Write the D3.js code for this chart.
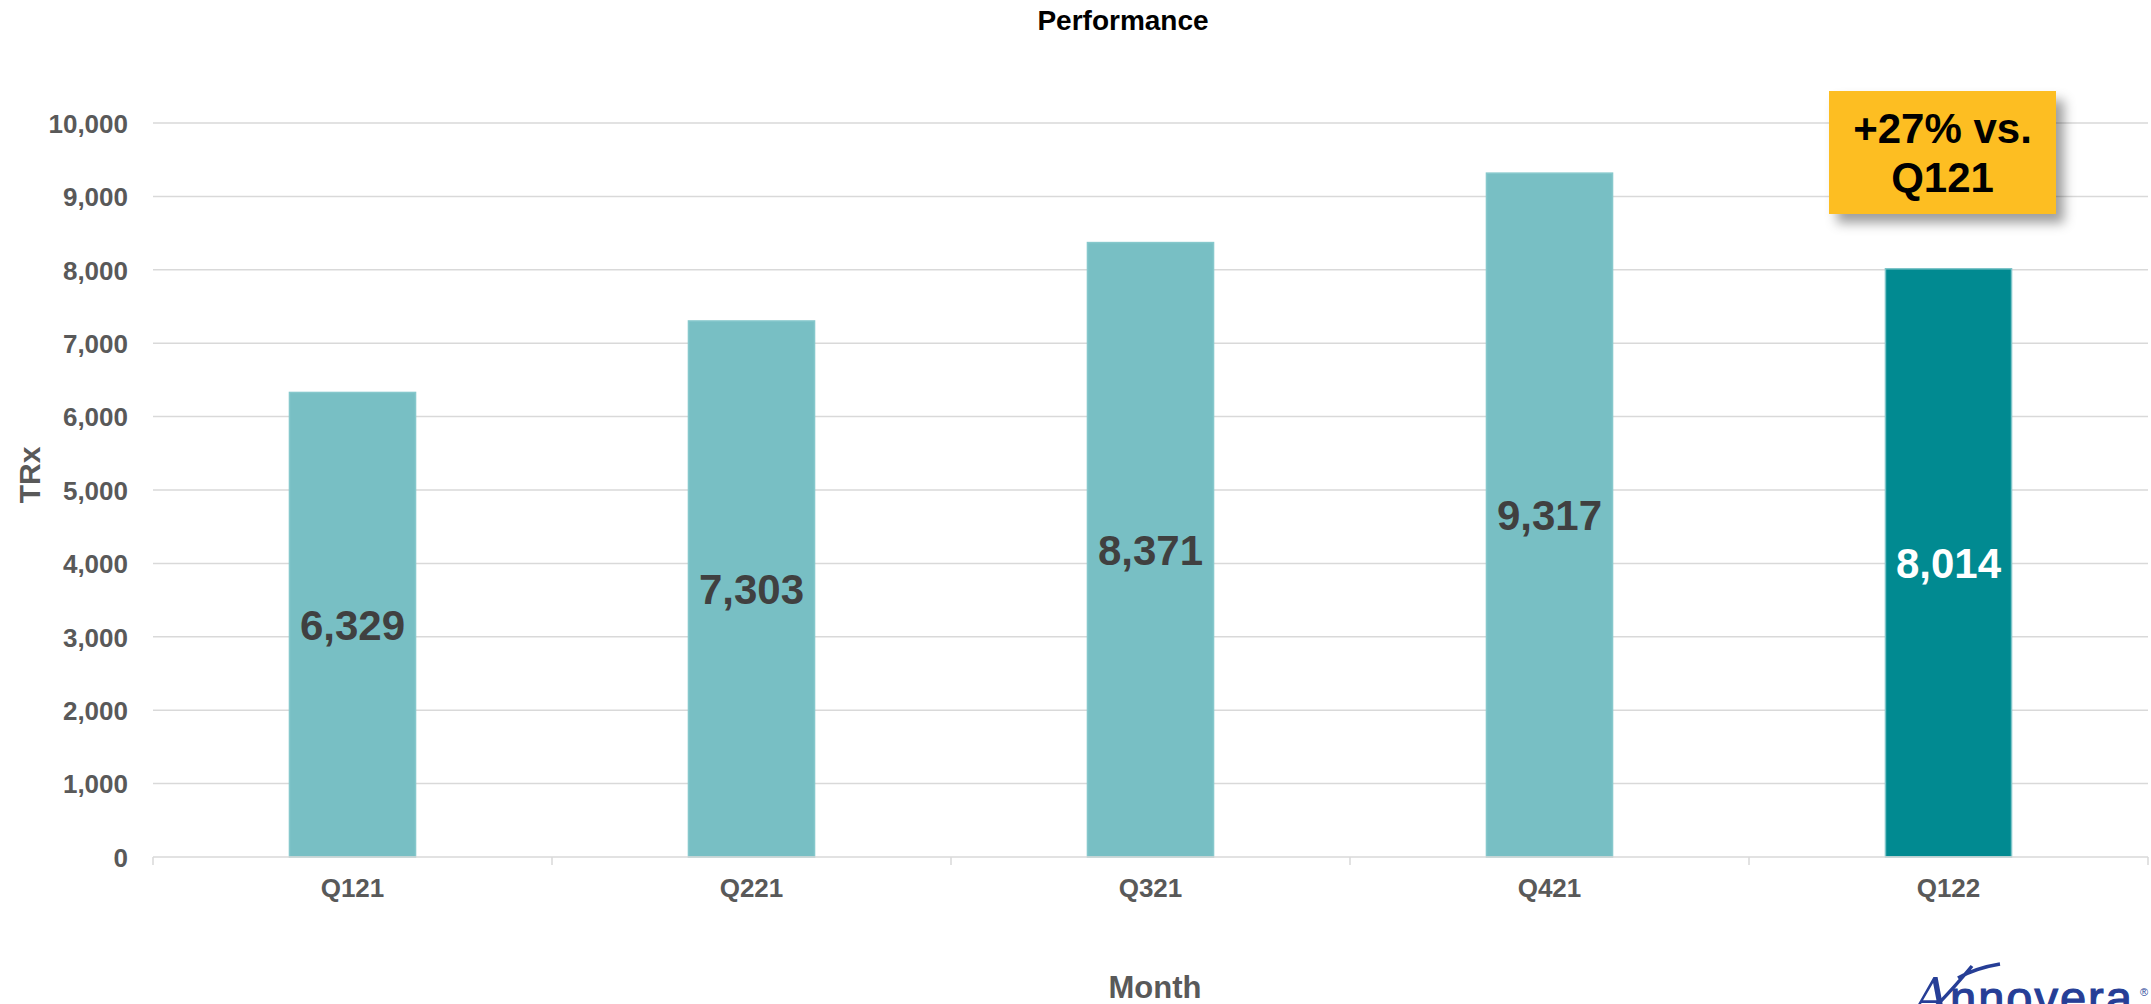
<!DOCTYPE html>
<html>
<head>
<meta charset="utf-8">
<script src="https://cdn.jsdelivr.net/npm/d3@7"></script>
<style>
  html, body { margin: 0; padding: 0; background: #ffffff; }
  svg { display: block; font-family: "Liberation Sans", Arial, sans-serif; }
</style>
</head>
<body>
<svg id="chart" width="2151" height="1004"></svg>
<script>
// Quarterly TRx volumes
const quarters = ["Q121", "Q221", "Q321", "Q421", "Q122"];
const trx = [6329, 7303, 8371, 9317, 8014];
const highlighted = ["Q122"];
const yTicks = [0, 1000, 2000, 3000, 4000, 5000, 6000, 7000, 8000, 9000, 10000];
const calloutLines = ["+27% vs.", "Q121"];

const plot = { left: 153, right: 2148, top: 123, bottom: 857 };

const svg = d3.select("#chart");

const x = d3.scaleBand()
  .domain(quarters)
  .range([plot.left, plot.right])
  .paddingInner(0.684)
  .paddingOuter(0.342);

const y = d3.scaleLinear()
  .domain([0, 10000])
  .range([plot.bottom, plot.top]);

const fmt = d3.format(",");

// drop shadow for the callout box
const defs = svg.append("defs");
const shadow = defs.append("filter")
  .attr("id", "callShadow")
  .attr("x", "-20%").attr("y", "-20%")
  .attr("width", "150%").attr("height", "160%");
shadow.append("feDropShadow")
  .attr("dx", 8).attr("dy", 9)
  .attr("stdDeviation", 6)
  .attr("flood-color", "#000")
  .attr("flood-opacity", 0.38);

// title
svg.append("text")
  .attr("x", 1123).attr("y", 30)
  .attr("text-anchor", "middle")
  .attr("font-size", 28).attr("font-weight", "bold")
  .attr("fill", "#000")
  .text("Performance");

// horizontal gridlines
svg.append("g")
  .selectAll("line")
  .data(yTicks.filter(d => d > 0))
  .join("line")
  .attr("x1", plot.left).attr("x2", plot.right)
  .attr("y1", d => y(d)).attr("y2", d => y(d))
  .attr("stroke", "#d9d9d9").attr("stroke-width", 1.5);

// y axis labels
const yAxis = svg.append("g")
  .attr("transform", `translate(${plot.left - 25},0)`)
  .call(d3.axisLeft(y).tickValues(yTicks).tickFormat(fmt).tickSize(0).tickPadding(0));
yAxis.select(".domain").remove();
yAxis.selectAll("text")
  .attr("font-family", "'Liberation Sans', Arial, sans-serif")
  .attr("font-size", 26).attr("font-weight", "bold")
  .attr("fill", "#595959")
  .attr("dy", "0.36em");

// bars
svg.append("g")
  .selectAll("rect")
  .data(quarters)
  .join("rect")
  .attr("x", d => x(d))
  .attr("width", x.bandwidth())
  .attr("y", (d, i) => y(trx[i]))
  .attr("height", (d, i) => y(0) - y(trx[i]))
  .attr("fill", d => highlighted.includes(d) ? "#018A91" : "#78BFC4")
  .attr("stroke", d => highlighted.includes(d) ? "#7CC4C8" : "#86C8CC")
  .attr("stroke-width", 1.5);

// x axis line with category boundary ticks
const xAxisG = svg.append("g");
xAxisG.append("line")
  .attr("x1", plot.left).attr("x2", plot.right)
  .attr("y1", plot.bottom).attr("y2", plot.bottom)
  .attr("stroke", "#d9d9d9").attr("stroke-width", 1.5);
const bounds = quarters.map(q => x(q) - x.step() * x.paddingInner() / 2).concat([plot.right]);
xAxisG.selectAll("line.tick")
  .data(bounds)
  .join("line")
  .attr("class", "tick")
  .attr("x1", d => d).attr("x2", d => d)
  .attr("y1", plot.bottom).attr("y2", plot.bottom + 8)
  .attr("stroke", "#d9d9d9").attr("stroke-width", 1.5);

// category labels
svg.append("g")
  .selectAll("text")
  .data(quarters)
  .join("text")
  .attr("x", d => x(d) + x.bandwidth() / 2)
  .attr("y", 897)
  .attr("text-anchor", "middle")
  .attr("font-size", 26).attr("font-weight", "bold")
  .attr("fill", "#595959")
  .text(d => d);

// value labels centred in each bar
svg.append("g")
  .selectAll("text")
  .data(quarters)
  .join("text")
  .attr("x", d => x(d) + x.bandwidth() / 2)
  .attr("y", (d, i) => (y(trx[i]) + y(0)) / 2)
  .attr("dy", "0.36em")
  .attr("text-anchor", "middle")
  .attr("font-size", 42).attr("font-weight", "bold")
  .attr("fill", d => highlighted.includes(d) ? "#ffffff" : "#404040")
  .text((d, i) => fmt(trx[i]));

// axis titles
svg.append("text")
  .attr("transform", "translate(40,475) rotate(-90)")
  .attr("text-anchor", "middle")
  .attr("font-size", 30).attr("font-weight", "bold")
  .attr("fill", "#595959")
  .text("TRx");

svg.append("text")
  .attr("x", 1155).attr("y", 998)
  .attr("text-anchor", "middle")
  .attr("font-size", 31).attr("font-weight", "bold")
  .attr("fill", "#595959")
  .text("Month");

// growth callout above the latest quarter
const call = svg.append("g");
call.append("rect")
  .attr("x", 1829).attr("y", 91)
  .attr("width", 227).attr("height", 123)
  .attr("fill", "#FDBE22")
  .attr("filter", "url(#callShadow)");
call.selectAll("text")
  .data(calloutLines)
  .join("text")
  .attr("x", 1942.5)
  .attr("y", (d, i) => 143 + i * 49)
  .attr("text-anchor", "middle")
  .attr("font-size", 42).attr("font-weight", "bold")
  .attr("fill", "#000")
  .text(d => d);

// brand mark, bottom right
const logo = svg.append("g").attr("fill", "#263E96");
logo.append("path")
  .attr("d", "M1936,1006 C1950,992 1962,978 1972,966 M1958,978 C1972,970 1988,966 2000,964")
  .attr("fill", "none").attr("stroke", "#263E96").attr("stroke-width", 3.5);
logo.append("text")
  .attr("x", 1914).attr("y", 1014)
  .attr("font-family", "'DejaVu Serif', serif")
  .attr("font-style", "italic")
  .attr("font-size", 50)
  .text("A");
logo.append("text")
  .attr("x", 1950).attr("y", 1014)
  .attr("font-size", 47)
  .attr("letter-spacing", 2)
  .attr("stroke", "#263E96").attr("stroke-width", 1.2)
  .text("nnovera");
logo.append("text")
  .attr("x", 2140).attr("y", 996)
  .attr("font-size", 11)
  .text("®");
</script>
</body>
</html>
